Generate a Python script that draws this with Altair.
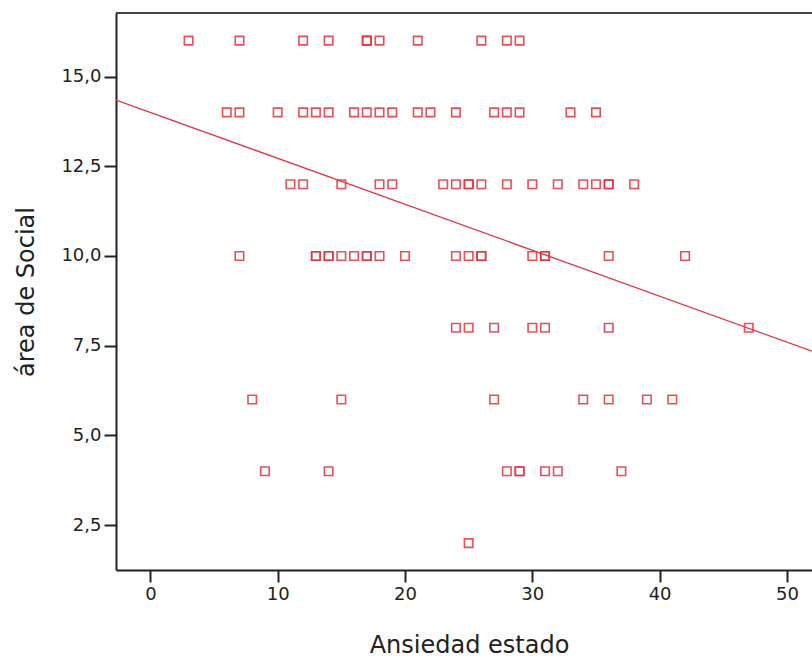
import altair as alt
import pandas as pd

# ---- data ----
social_levels = [16, 14, 12, 10, 8, 6, 4, 2]
ansiedad_at_16 = [3, 7, 12, 14, 17, 17, 18, 21, 26, 28, 29]
ansiedad_at_14 = [6, 7, 10, 12, 13, 14, 16, 17, 18, 19, 21, 22, 24, 27, 28, 29, 33, 35]
ansiedad_at_12 = [11, 12, 15, 18, 19, 23, 24, 25, 25, 26, 28, 30, 32, 34, 35, 36, 36, 38]
ansiedad_at_10 = [7, 13, 13, 14, 14, 15, 16, 17, 17, 18, 20, 24, 25, 26, 26, 30, 31, 31, 36, 42]
ansiedad_at_8 = [24, 25, 27, 30, 31, 36, 47]
ansiedad_at_6 = [8, 15, 27, 34, 36, 39, 41]
ansiedad_at_4 = [9, 14, 28, 29, 29, 31, 32, 37]
ansiedad_at_2 = [25]

fit_intercept = 14.0
fit_slope = -0.128

x_ticks = [0, 10, 20, 30, 40, 50]
y_ticks = [2.5, 5.0, 7.5, 10.0, 12.5, 15.0]
x_domain = [-2.7, 51.97]
y_domain = [1.25, 16.77]

rows = [ansiedad_at_16, ansiedad_at_14, ansiedad_at_12, ansiedad_at_10,
        ansiedad_at_8, ansiedad_at_6, ansiedad_at_4, ansiedad_at_2]
records = []
for level, xs in zip(social_levels, rows):
    for xv in xs:
        records.append({"ansiedad": xv, "social": level})
df = pd.DataFrame(records)

line_df = pd.DataFrame({
    "ansiedad": x_domain,
    "social": [fit_intercept + fit_slope * v for v in x_domain],
})

RED = "#e8323c"
INK = "#222222"
W, H = 696, 557

x_enc = alt.X(
    "ansiedad:Q",
    scale=alt.Scale(domain=x_domain, nice=False, zero=False),
    axis=alt.Axis(
        values=x_ticks, title="Ansiedad estado", titleX=353, titleY=82,
        titleBaseline="alphabetic", labelPadding=3,
    ),
)
y_enc = alt.Y(
    "social:Q",
    scale=alt.Scale(domain=y_domain, nice=False, zero=False),
    axis=alt.Axis(
        values=y_ticks, title="área de Social",
        labelExpr="replace(format(datum.value, '.1f'), '.', ',')",
        titleX=-83, titleY=H / 2, titleBaseline="alphabetic", labelPadding=3,
    ),
)

points = alt.Chart(df).mark_point(
    shape="square", filled=False, size=72, strokeWidth=1.6, color=RED, opacity=0.85
).encode(x=x_enc, y=y_enc)

fit = alt.Chart(line_df).mark_line(color=RED, strokeWidth=1.3, clip=True).encode(
    x=alt.X("ansiedad:Q"), y=alt.Y("social:Q")
)

frame_top = alt.Chart(pd.DataFrame({"a": [0]})).mark_rule(
    color="#444444", strokeWidth=2
).encode(x=alt.value(0), x2=alt.value(W), y=alt.value(0))

chart = alt.layer(points, fit, frame_top).properties(
    width=W, height=H,
    background="white",
    padding={"left": 116, "top": 13, "right": 0, "bottom": 89},
    autosize=alt.AutoSizeParams(type="none"),
).configure_view(stroke=None).configure_axis(
    grid=False,
    domainColor=INK, domainWidth=2,
    tickColor=INK, tickWidth=2, tickSize=12,
    labelFont="DejaVu Sans", labelFontSize=18, labelColor=INK,
    titleFont="DejaVu Sans", titleFontSize=24, titleFontWeight="normal", titleColor=INK,
)

chart.save("out.html", embed_options={"renderer": "svg", "actions": False})
